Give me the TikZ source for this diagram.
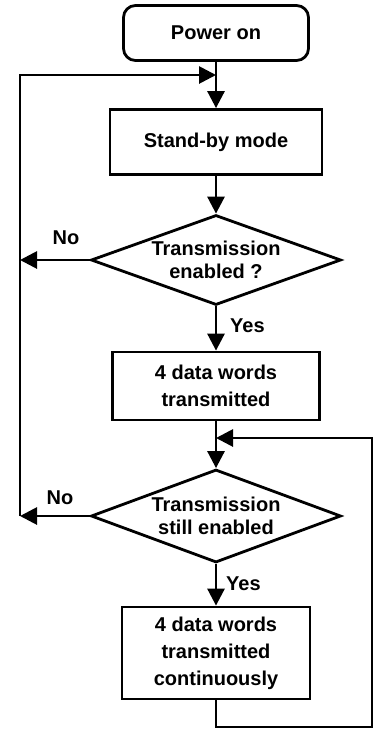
\documentclass[tikz,border=0pt]{standalone}
\usepackage{fontspec}
\setmainfont{Liberation Sans}
\usetikzlibrary{arrows.meta,shapes.geometric}

\begin{document}
\begin{tikzpicture}[x=1pt,y=1pt,%%
  arrowStyle/.style={-{Triangle[length=17pt,width=17pt]},line width=2.8pt},%%
  boxStyle/.style={draw,line width=2.8pt,align=center,inner sep=0pt},%%
  startStyle/.style={boxStyle,rounded corners=12pt},%%
  decisionStyle/.style={draw,diamond,aspect=2.75,line width=2.8pt,align=center,inner sep=0pt},%%
  labelStyle/.style={inner sep=0pt}%%
]
%%
\useasboundingbox (0,0) rectangle (380,-736);
%%
\pgfmathsetmacro{\xmid}{216}
\pgfmathsetmacro{\xleft}{20}
\pgfmathsetmacro{\xright}{372}
%%
\fontsize{20}{27}\selectfont\bfseries
%% Draw the blocks.
\node[startStyle,minimum width=185pt,minimum height=55pt] (powerOn) at (\xmid,-33) {Power on};
\node[boxStyle,minimum width=212pt,minimum height=65pt] (standBy) at (\xmid,-142) {Stand-by mode};
\node[decisionStyle,minimum width=250pt,minimum height=90pt] (enabledQ) at (\xmid,-260) {Transmission\\[-4pt]enabled ?};
\node[boxStyle,minimum width=207pt,minimum height=68pt] (dataOnce) at (\xmid,-386) {4 data words\\transmitted};
\node[decisionStyle,minimum width=250pt,minimum height=93pt] (stillQ) at (\xmid,-516) {Transmission\\[-4pt]still enabled};
\node[boxStyle,minimum width=188pt,minimum height=92pt] (dataCont) at (\xmid,-653) {4 data words\\transmitted\\continuously};
%%
\coordinate (joinTop) at (\xmid,-75);
\coordinate (leftTop) at (\xleft,-75);
\coordinate (joinLow) at (\xmid,-438);
\coordinate (rightTop) at (\xright,-438);
\coordinate (rightLow) at (\xright,-727);
\coordinate (bottomMid) at (\xmid,-727);
%% Main flow.
\draw[arrowStyle] (powerOn) -- (standBy);
\draw[arrowStyle] (standBy) -- (enabledQ);
\draw[arrowStyle] (enabledQ) -- (dataOnce);
\draw[arrowStyle] (dataOnce) -- (stillQ);
\draw[arrowStyle] (stillQ) -- (dataCont);
%% The No branches back to stand-by.
\draw[arrowStyle] (enabledQ.west) -- (enabledQ.west -| leftTop);
\draw[arrowStyle] (stillQ.west) -- (stillQ.west -| leftTop);
\draw[arrowStyle] (stillQ.west -| leftTop) -- (leftTop) -- (joinTop);
%% Loop of continuous transmission.
\draw[arrowStyle] (dataCont.south) -- (bottomMid) -- (rightLow) -- (rightTop) -- (joinLow);
%% Labels.
\node[labelStyle,anchor=west] (yesOne) at (230,-326) {Yes};
\node[labelStyle,anchor=west] (yesTwo) at (226,-584) {Yes};
\node[labelStyle] (noOne) at (66,-238) {No};
\node[labelStyle] (noTwo) at (60,-498) {No};
\end{tikzpicture}
\end{document}
